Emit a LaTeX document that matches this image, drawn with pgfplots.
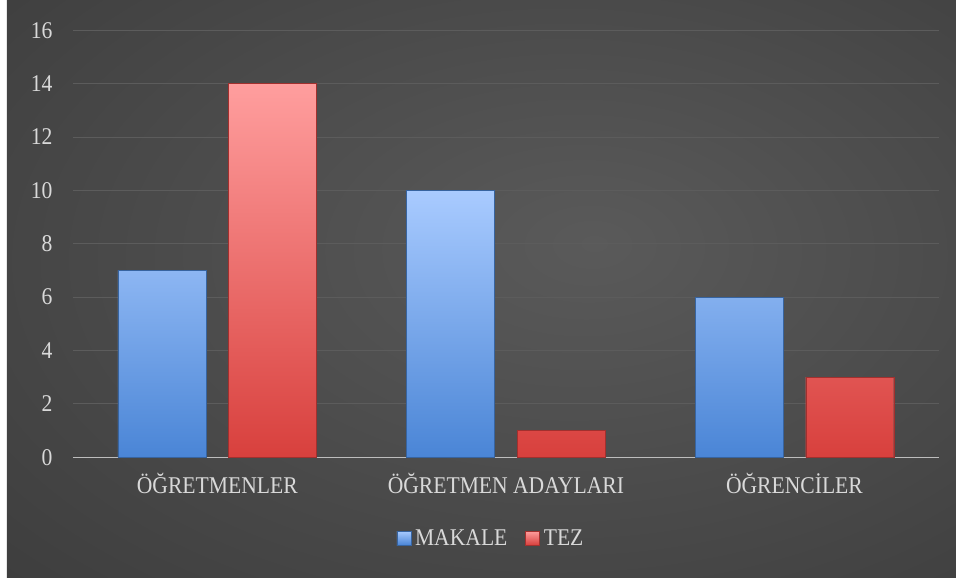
\documentclass[border=0pt]{standalone}
\usepackage{fontspec}
\setmainfont{Liberation Serif}[FakeStretch=0.9]
\usepackage{pgfplots}
\pgfplotsset{compat=1.18}
\definecolor{bgin}{HTML}{5A5A5A}
\definecolor{bgout}{HTML}{242424}
\definecolor{txt}{HTML}{D9D9D9}
\definecolor{gridc}{HTML}{5C5C5C}
\definecolor{axc}{HTML}{BDBDBD}
\definecolor{btop}{HTML}{A9CBFF}
\definecolor{bbot}{HTML}{4A85D6}
\definecolor{rtop}{HTML}{FF9E9E}
\definecolor{rbot}{HTML}{D8403D}
\pgfdeclareradialshading{bgshade}{\pgfpoint{6bp}{4bp}}{color(0bp)=(bgin); color(75bp)=(bgout)}
\begin{document}
\begin{tikzpicture}
\fill[white] (-73bp,-121.7bp) rectangle (883bp,457.3bp);
\shade[shading=bgshade] (-66bp,-120.2bp) rectangle (883bp,456.3bp);
\begin{axis}[
  at={(0,0)}, anchor=south west, scale only axis,
  x=288.57bp, y=26.69bp,
  xmin=-0.5, xmax=2.5, ymin=0, ymax=16,
  ybar,
  axis x line=bottom, axis y line=left,
  x axis line style={-, draw=axc, line width=1.5bp},
  y axis line style={draw=none},
  major tick length=0pt,
  ytick={0,2,...,16},
  xtick={0,1,2},
  xticklabels={ÖĞRETMENLER, ÖĞRETMEN ADAYLARI, ÖĞRENCİLER},
  ymajorgrids,
  grid style={draw=gridc, line width=1bp},
  /pgf/number format/assume math mode=true,
  tick label style={text=txt, font=\fontsize{24bp}{28bp}\selectfont},
  yticklabel style={xshift=-17bp},
  xticklabel style={yshift=-12bp},
  legend style={at={(0.484,-0.189)}, anchor=center, draw=none, fill=none,
    text=txt, font=\fontsize{24bp}{28bp}\selectfont, legend columns=2,
    /tikz/every even column/.append style={column sep=14bp},
    nodes={inner xsep=4bp},
    legend cell align=left},
  legend image code/.code={\draw[#1] (0bp,-7bp) rectangle (14bp,7bp);},
]
\addplot[bar width=88bp, bar shift=-55.3bp, draw=bbot!75!black, top color=btop, bottom color=bbot]
  coordinates {(0,7) (1,10) (2,6)};
\addplot[bar width=88bp, bar shift=55.3bp, draw=rbot!75!black, top color=rtop, bottom color=rbot]
  coordinates {(0,14) (1,1) (2,3)};
\legend{MAKALE, TEZ}
\end{axis}
\end{tikzpicture}
\end{document}
